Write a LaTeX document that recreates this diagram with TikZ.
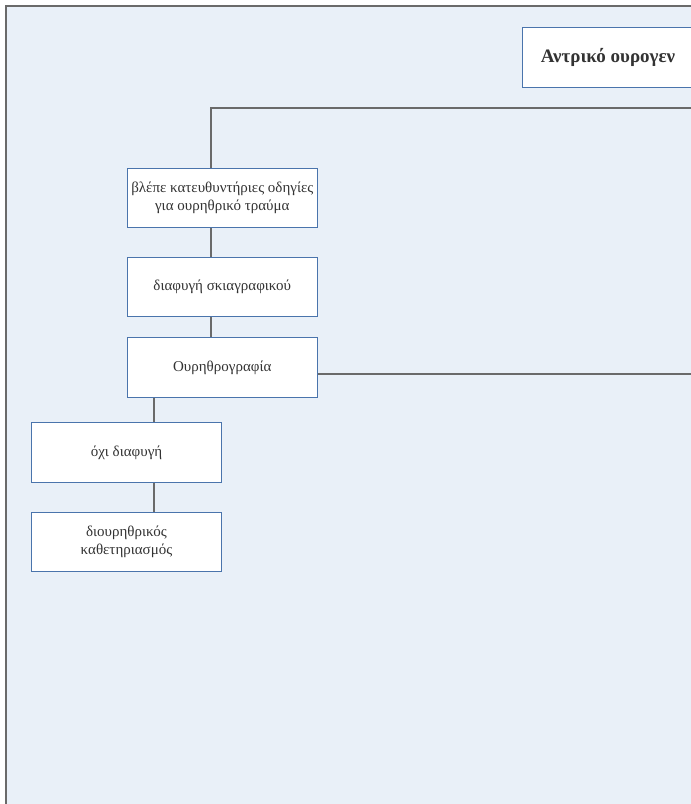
\documentclass[tikz,border=0pt]{standalone}
\usepackage{fontspec}
\setmainfont{Liberation Serif}
\begin{document}
\begin{tikzpicture}[x=1pt,y=-1pt,
  stepbox/.style={draw=boxblue, line width=0.9pt, fill=white, minimum width=190pt, minimum height=59.5pt,
    inner sep=2pt, align=center, text=txtgray, font=\fontsize{15}{18.5}\selectfont},
  conn/.style={draw=linegray, line width=1.1pt}]
\definecolor{bgblue}{HTML}{E9F0F8}
\definecolor{boxblue}{HTML}{4A74AC}
\definecolor{linegray}{HTML}{6A6A6A}
\definecolor{txtgray}{HTML}{333333}
\useasboundingbox (0,0) rectangle (691,804);
\clip (0,0) rectangle (691,804);
\fill[white] (0,0) rectangle (691,804);
\fill[bgblue] (6,6) rectangle (700,810);
\draw[linegray, line width=1.5pt] (6,810) -- (6,6) -- (700,6);
% title
\node[draw=boxblue, line width=0.9pt, fill=white, minimum width=172pt, minimum height=60pt,
  text=txtgray, font=\fontsize{19}{22}\selectfont\bfseries] (t) at (608,57.5) {Αντρικό ουρογεν};
% boxes
\node[stepbox] (b1) at (222.3,198) {βλέπε κατευθυντήριες οδηγίες\\για ουρηθρικό τραύμα};
\node[stepbox] (b2) at (222.3,287) {διαφυγή σκιαγραφικού};
\node[stepbox] (b3) at (222.3,367.6) {Ουρηθρογραφία};
\node[stepbox] (b4) at (126.5,452.5) {όχι διαφυγή};
\node[stepbox] (b5) at (126.5,541.8) {διουρηθρικός\\καθετηριασμός};
% connectors
\coordinate (j1) at (211,108);
\coordinate (e1) at (691,108);
\coordinate (e2) at (691,374);
\coordinate (j2) at (154,0);
\draw[conn] (e1) -- (j1) -- (j1 |- b1.north);
\draw[conn] (b1.south -| j1) -- (b2.north -| j1);
\draw[conn] (b2.south -| j1) -- (b3.north -| j1);
\draw[conn] (b3.east |- e2) -- (e2);
\draw[conn] (b3.south -| j2) -- (b4.north -| j2);
\draw[conn] (b4.south -| j2) -- (b5.north -| j2);
\end{tikzpicture}
\end{document}
